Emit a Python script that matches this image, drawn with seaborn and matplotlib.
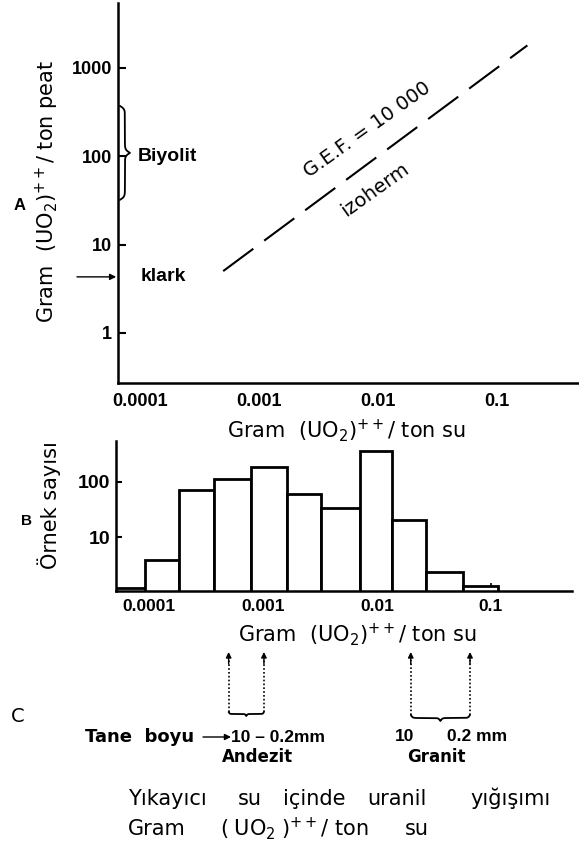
import numpy as np
import pandas as pd
import matplotlib
matplotlib.use("Agg")
import matplotlib.pyplot as plt
import matplotlib.transforms as mtrans
import seaborn as sns

# ---- values ----
# A: uranyl in peat vs uranyl in water, G.E.F. = 10 000 isoherm
a_ticks_x = [0.0001, 0.001, 0.01, 0.1]
a_ticklabels_x = ["0.0001", "0.001", "0.01", "0.1"]
a_ticks_y = [1, 10, 100, 1000]
a_ticklabels_y = ["1", "10", "100", "1000"]
gef_x = [0.0005, 0.18]
gef_y = [5, 1800]
biyolit_range = [32, 372]
klark_value = 4.3

# B: number of samples per concentration class
b_edges = [5.1e-5, 9.2e-5, 1.85e-4, 3.7e-4, 7.8e-4, 1.63e-3, 3.2e-3,
           7.1e-3, 1.35e-2, 2.7e-2, 5.7e-2, 0.116]
b_counts = [1.25, 3.9, 71, 110, 186, 60, 33, 360, 20.5, 2.4, 1.36]
b_ticks_y = [10, 100]
b_ticklabels_y = ["10", "100"]

# C: grain size ranges (10 - 0.2 mm)
andezit_range = [0.0005, 0.00102]
granit_range = [0.0198, 0.0655]

W, H = 579, 844
sns.set_theme(style="white")
plt.rcParams["font.family"] = ["DejaVu Sans"]
plt.rcParams["mathtext.default"] = "regular"

fig = plt.figure(figsize=(W / 100, H / 100), dpi=100)


def fx(px):
    return px / W


def fy(py):
    return 1 - py / H


def brace(n=200, k=60):
    # curly brace profile: t along the brace 0..1, h across 0..1 (tip at middle)
    u = np.linspace(0, 0.5, n // 2)
    h = 1 / (1 + np.exp(-k * u)) + 1 / (1 + np.exp(-k * (u - 0.5)))
    h = (h - h[0]) / (h[-1] - h[0])
    t = np.concatenate([u, 1 - u[::-1]])
    return t, np.concatenate([h, h[::-1]])


tick_font = dict(family="Liberation Sans", weight="bold")
word_font = dict(family="DejaVu Sans", weight="bold")
lab_font = dict(family="DejaVu Sans", size=15)

# ---------------- panel A ----------------
ax_a = fig.add_axes([fx(118), fy(383), fx(579 - 118), (383 - 3) / H])
sns.lineplot(x=gef_x, y=gef_y, ax=ax_a, color="black", lw=1.5,
             linestyle=(0, (18, 6.5)))
ax_a.set_xscale("log")
ax_a.set_yscale("log")
ax_a.set_xlim(6.53e-5, 0.489)
ax_a.set_ylim(0.27, 5440)
ax_a.set_xticks(a_ticks_x, a_ticklabels_x)
ax_a.set_yticks(a_ticks_y, a_ticklabels_y)
ax_a.minorticks_off()
ax_a.tick_params(axis="x", bottom=True, length=0, pad=7)
ax_a.tick_params(axis="y", left=True, direction="in", length=5.5, width=1.5,
                 pad=4.3, color="black")
for lab in ax_a.get_xticklabels() + ax_a.get_yticklabels():
    lab.set_fontproperties(tick_font)
    lab.set_fontsize(13)
    lab.set_color("black")

ax_a.set_xlabel(r"Gram  $(UO_2)^{++}$/ ton su", color="black", va="baseline", **lab_font)
ax_a.xaxis.set_label_coords((346 - 118) / 461, (383 - 438) / 380)
ax_a.set_ylabel(r"Gram  $(UO_2)^{++}$/ ton peat", color="black", va="baseline",
                ha="center", rotation_mode="anchor", **lab_font)
ax_a.yaxis.set_label_coords((54 - 118) / 461, (383 - 191) / 380)

# G.E.F. labels along the isoherm
ax_a.text(0.0081, 199, "G.E.F. = 10 000", rotation=35.5, rotation_mode="anchor",
          ha="center", va="center", fontsize=14, color="black")
ax_a.text(0.0094, 41.5, "izoherm", rotation=35.5, rotation_mode="anchor",
          ha="center", va="center", fontsize=14, color="black")

# Biyolit brace
blend_a = mtrans.blended_transform_factory(ax_a.transAxes, ax_a.transData)
t, h = brace()
lo, hi = np.log10(biyolit_range)
ax_a.plot(0.004 + h * 0.022, 10 ** (lo + t * (hi - lo)), color="black", lw=1.3,
          transform=blend_a, clip_on=False)
ax_a.text(0.043, 100, "Biyolit", transform=blend_a, ha="left", va="center",
          fontsize=14, color="black", **tick_font)

# klark arrow
ax_a.annotate("", xy=(-0.004, klark_value), xytext=(-0.089, klark_value),
              xycoords=blend_a, textcoords=blend_a,
              arrowprops=dict(arrowstyle="-|>", color="black", lw=1.0,
                              mutation_scale=9, shrinkA=0, shrinkB=0))
ax_a.text(0.048, klark_value, "klark", transform=blend_a, ha="left", va="center",
          fontsize=14, color="black", **tick_font)

fig.text(fx(20), fy(205), "A", ha="center", va="center", fontsize=12,
         color="black", **tick_font)

# ---------------- panel B ----------------
ax_b = fig.add_axes([fx(116), fy(590.7), fx(572 - 116), 150 / H])
hist_df = pd.DataFrame({
    "conc": np.sqrt(np.array(b_edges[:-1]) * np.array(b_edges[1:])),
    "n": b_counts,
})
sns.histplot(data=hist_df, x="conc", weights="n",
             bins=[float(v) for v in np.log10(b_edges)], log_scale=True,
             ax=ax_b, color="white", edgecolor="black", linewidth=2, alpha=1)
ax_b.set_yscale("log")
ax_b.set_xlim(5.14e-5, 0.514)
ax_b.set_ylim(1.10, 545)
ax_b.set_xticks(a_ticks_x, a_ticklabels_x)
ax_b.set_yticks(b_ticks_y, b_ticklabels_y)
ax_b.minorticks_off()
ax_b.tick_params(axis="x", bottom=True, direction="in", length=6, width=1.2,
                 pad=6, color="black")
ax_b.tick_params(axis="y", left=True, direction="in", length=4.5, width=1.5,
                 pad=4.3, color="black")
for lab in ax_b.get_xticklabels():
    lab.set_fontproperties(tick_font)
    lab.set_fontsize(12.5)
    lab.set_color("black")
for lab in ax_b.get_yticklabels():
    lab.set_fontproperties(tick_font)
    lab.set_fontsize(14)
    lab.set_color("black")

ax_b.set_xlabel(r"Gram  $(UO_2)^{++}$/ ton su", color="black", va="baseline", **lab_font)
ax_b.xaxis.set_label_coords((357 - 116) / 456, (590.7 - 641.7) / 150)
ax_b.set_ylabel("Örnek sayısı", color="black", va="baseline", ha="center",
                rotation_mode="anchor", **lab_font)
ax_b.yaxis.set_label_coords((57 - 116) / 456, (590.7 - 505) / 150)

fig.text(fx(26), fy(521), "B", ha="center", va="center", fontsize=11,
         color="black", **tick_font)

for ax in (ax_a, ax_b):
    sns.despine(ax=ax)
    for side in ("left", "bottom"):
        ax.spines[side].set_linewidth(1.8)
        ax.spines[side].set_color("black")

# ---------------- panel C ----------------
blend_c = mtrans.blended_transform_factory(ax_b.transData, fig.transFigure)
for rng, ybot, depth in ((andezit_range, 712, 4), (granit_range, 715, 6)):
    for xv in rng:
        ax_b.plot([xv, xv], [fy(ybot), fy(660)], color="black", lw=1.2,
                  linestyle=(0, (1, 1.3)), transform=blend_c, clip_on=False)
        ax_b.annotate("", xy=(xv, fy(652)), xytext=(xv, fy(664)),
                      xycoords=blend_c, textcoords=blend_c,
                      arrowprops=dict(arrowstyle="-|>", color="black", lw=1.0,
                                      mutation_scale=8, shrinkA=0, shrinkB=0))
    t, h = brace()
    lo, hi = np.log10(rng)
    ax_b.plot(10 ** (lo + t * (hi - lo)), fy(ybot) - h * depth / H, color="black",
              lw=1.3, transform=blend_c, clip_on=False)

fig.text(fx(18), fy(722), "C", ha="center", va="baseline", fontsize=14, color="black")
num12 = dict(fontsize=12.5, color="black", va="baseline", ha="left", **tick_font)
word12 = dict(fontsize=13, color="black", va="baseline", ha="left", **word_font)
fig.text(fx(85), fy(742), "Tane  boyu", **word12)
fig.add_artist(matplotlib.patches.FancyArrowPatch(
    (fx(203), fy(737)), (fx(231), fy(737)), transform=fig.transFigure,
    arrowstyle="-|>", mutation_scale=9, color="black", lw=1.0,
    shrinkA=0, shrinkB=0))
fig.text(fx(231), fy(742), "10 – 0.2mm", **num12)
fig.text(fx(222), fy(762), "Andezit", fontsize=12, color="black", va="baseline",
         ha="left", **word_font)
fig.text(fx(395), fy(741), "10", **num12)
fig.text(fx(447), fy(741), "0.2 mm", **num12)
fig.text(fx(407), fy(762), "Granit", fontsize=12, color="black", va="baseline",
         ha="left", **word_font)

cap = dict(fontsize=15, color="black", va="baseline", ha="left")
for word, xpx in (("Yıkayıcı", 128), ("su", 238), ("içinde", 283),
                  ("uranil", 367), ("yığışımı", 470)):
    fig.text(fx(xpx), fy(805), word, **cap)
fig.text(fx(128), fy(835), "Gram", **cap)
fig.text(fx(220), fy(835), r"$(\;UO_2\;)^{++}$/ ton", **cap)
fig.text(fx(405), fy(835), "su", **cap)

fig.savefig("out.png", dpi=100, facecolor="white")
